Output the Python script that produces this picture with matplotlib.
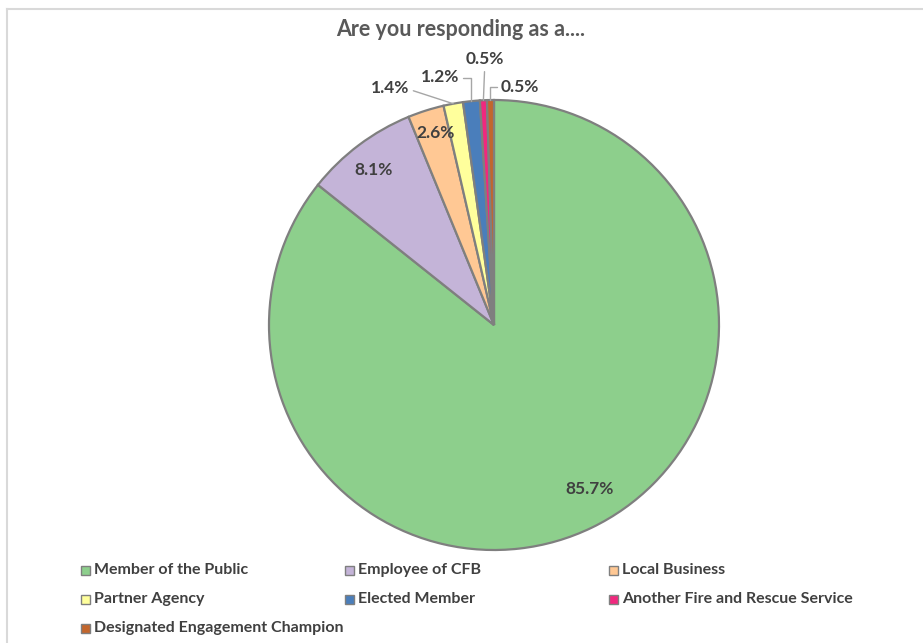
import numpy as np
import matplotlib
matplotlib.use("Agg")
import matplotlib.pyplot as plt
from matplotlib.patches import Rectangle
from matplotlib.lines import Line2D

# Survey responses: "Are you responding as a...."
categories = [
    "Member of the Public",
    "Employee of CFB",
    "Local Business",
    "Partner Agency",
    "Elected Member",
    "Another Fire and Rescue Service",
    "Designated Engagement Champion",
]
shares = [85.7, 8.1, 2.6, 1.4, 1.2, 0.5, 0.5]

colors = ["#8DCF8C", "#C4B4D8", "#FFC894", "#FFFF9C", "#4A7EBB", "#F0287E", "#C3662C"]
edge = "#7F7F7F"
text_dark = "#404040"

plt.rcParams["font.family"] = ["Lato", "DejaVu Sans"]

W, H = 923, 643
fig = plt.figure(figsize=(W / 100, H / 100), dpi=100)

# light chart-area frame
fig.add_artist(Line2D([7 / W, 7 / W], [0, 1 - 9 / H], transform=fig.transFigure,
                      color="#D9D9D9", lw=1.5))
fig.add_artist(Line2D([7 / W, 1], [1 - 9 / H, 1 - 9 / H], transform=fig.transFigure,
                      color="#D9D9D9", lw=1.5))

# pie axes: centre (494, 325) px, radius 225 px
cx, cy, R = 494, 325, 225
ax = fig.add_axes([(cx - R) / W, 1 - (cy + R) / H, 2 * R / W, 2 * R / H])
ax.set_aspect("equal")
ax.axis("off")

wedges, _ = ax.pie(shares, colors=colors, startangle=90, counterclock=False,
                   radius=1.0, center=(0, 0), frame=False,
                   wedgeprops=dict(edgecolor=edge, linewidth=1.6))
ax.set_xlim(-1, 1)
ax.set_ylim(-1, 1)

# label placement per slice: inside -> (radius, angle offset); outside -> (text xy, connector)
label_style = [
    ("in", 0.842, 4.4),
    ("in", 0.875, 1.0),
    ("in", 0.89, -0.8),
    ("out", (-0.462, 1.053), "angle,angleA=0,angleB=-18,rad=0"),
    ("out", (-0.24, 1.10), "angle,angleA=0,angleB=90,rad=0"),
    ("out", (-0.04, 1.18), "arc3,rad=0"),
    ("out", (0.115, 1.06), "angle,angleA=0,angleB=90,rad=0"),
]

total = float(sum(shares))
cum = 0.0
for val, style in zip(shares, label_style):
    mid = 90 - (cum + val / 2) / total * 360
    cum += val
    txt = f"{val:.1f}%"
    if style[0] == "in":
        r, off = style[1], style[2]
        a = np.deg2rad(mid + off)
        ax.text(r * np.cos(a), r * np.sin(a), txt, ha="center", va="center",
                fontsize=12.5, fontweight="bold", color=text_dark)
    else:
        (tx, ty), cs = style[1], style[2]
        a = np.deg2rad(mid)
        ax.annotate(txt, xy=(np.cos(a), np.sin(a)), xytext=(tx, ty),
                    ha="center", va="center",
                    fontsize=12.5, fontweight="bold", color=text_dark,
                    annotation_clip=False,
                    arrowprops=dict(arrowstyle="-", color="#A6A6A6", lw=1.0,
                                    connectionstyle=cs, shrinkA=1, shrinkB=0))

fig.text(461 / W, 1 - 30 / H, "Are you responding as a....", ha="center", va="center",
         fontsize=15.5, fontweight="bold", color="#595959")

# legend: three entries per row
col_x = [81, 345, 609]      # left edge of swatch, px
row_y = [570, 599, 628]     # row centre, px
sw = 9
for i, (name, c) in enumerate(zip(categories, colors)):
    x0 = col_x[i % 3]
    y0 = row_y[i // 3]
    fig.add_artist(Rectangle((x0 / W, (H - y0 - sw / 2) / H), sw / W, sw / H,
                             transform=fig.transFigure, facecolor=c,
                             edgecolor=edge, linewidth=1.0))
    fig.text((x0 + sw + 4) / W, 1 - y0 / H, name, ha="left", va="center",
             fontsize=11.5, fontweight="bold", color=text_dark)

fig.savefig("out.png", dpi=100, facecolor="white")
